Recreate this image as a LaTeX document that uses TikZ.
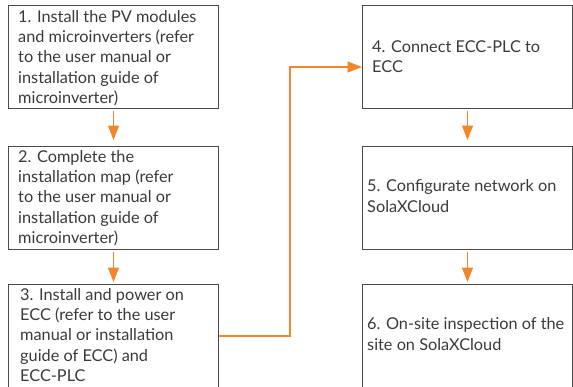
\documentclass[tikz,border=0pt]{standalone}
\usepackage{fontspec}
\setmainfont{Lato}
\usetikzlibrary{arrows.meta}
\definecolor{org}{HTML}{F2862A}
\definecolor{txtc}{HTML}{3A3A3A}
\definecolor{brd}{HTML}{4A4A4A}
\begin{document}
\begin{tikzpicture}[x=1pt,y=-1pt,
  box/.style={draw=brd, line width=1pt, minimum width=210pt, minimum height=103pt, anchor=north west, inner sep=0pt},
  label/.style={anchor=west, align=left, inner sep=0pt, text=txtc, font=\fontsize{16.3}{20.2}\selectfont},
  arr/.style={draw=org, line width=1.2pt, -{Triangle[width=11pt,length=14.5pt]}, shorten <=2pt}]
\useasboundingbox (0,0) rectangle (573,386);
\clip (0,0) rectangle (573,386);
\node[box] (b1) at (8,5) {};
\node[box] (b2) at (8,146) {};
\node[box] (b3) at (8,284) {};
\node[box] (b4) at (362,5) {};
\node[box] (b5) at (362,146) {};
\node[box] (b6) at (362,284) {};
\node[label] (t1) at ([xshift=10pt,yshift=-1pt]b1.west) {1. Install the PV modules\\and microinverters (refer\\to the user manual or\\installation guide of\\microinverter)};
\node[label] (t2) at ([xshift=10pt]b2.west) {2. Complete the\\installation map (refer\\to the user manual or\\installation guide of\\microinverter)};
\node[label] (t3) at ([xshift=12pt,yshift=1pt]b3.west) {3. Install and power on\\ECC (refer to the user\\manual or installation\\guide of ECC) and\\ECC-PLC};
\node[label] (t4) at ([xshift=10pt]b4.west) {4. Connect ECC-PLC to\\ECC};
\node[label] (t5) at ([xshift=5pt,yshift=2pt]b5.west) {5. Configurate network on\\SolaXCloud};
\node[label] (t6) at ([xshift=5pt,yshift=2pt]b6.west) {6. On-site inspection of the\\site on SolaXCloud};
\coordinate (k) at (290,0);
\coordinate (e4) at ([yshift=-10pt]b4.west);
\draw[arr, shorten >=6pt] (b1.south) -- (b2.north);
\draw[arr, shorten >=2pt] (b2.south) -- (b3.north);
\draw[arr, shorten >=6pt] (b4.south) -- (b5.north);
\draw[arr, shorten >=2pt] (b5.south) -- (b6.north);
\draw[arr, shorten <=0pt] (b3.east) -- (b3.east -| k) -- (e4 -| k) -- (e4);
\end{tikzpicture}
\end{document}
